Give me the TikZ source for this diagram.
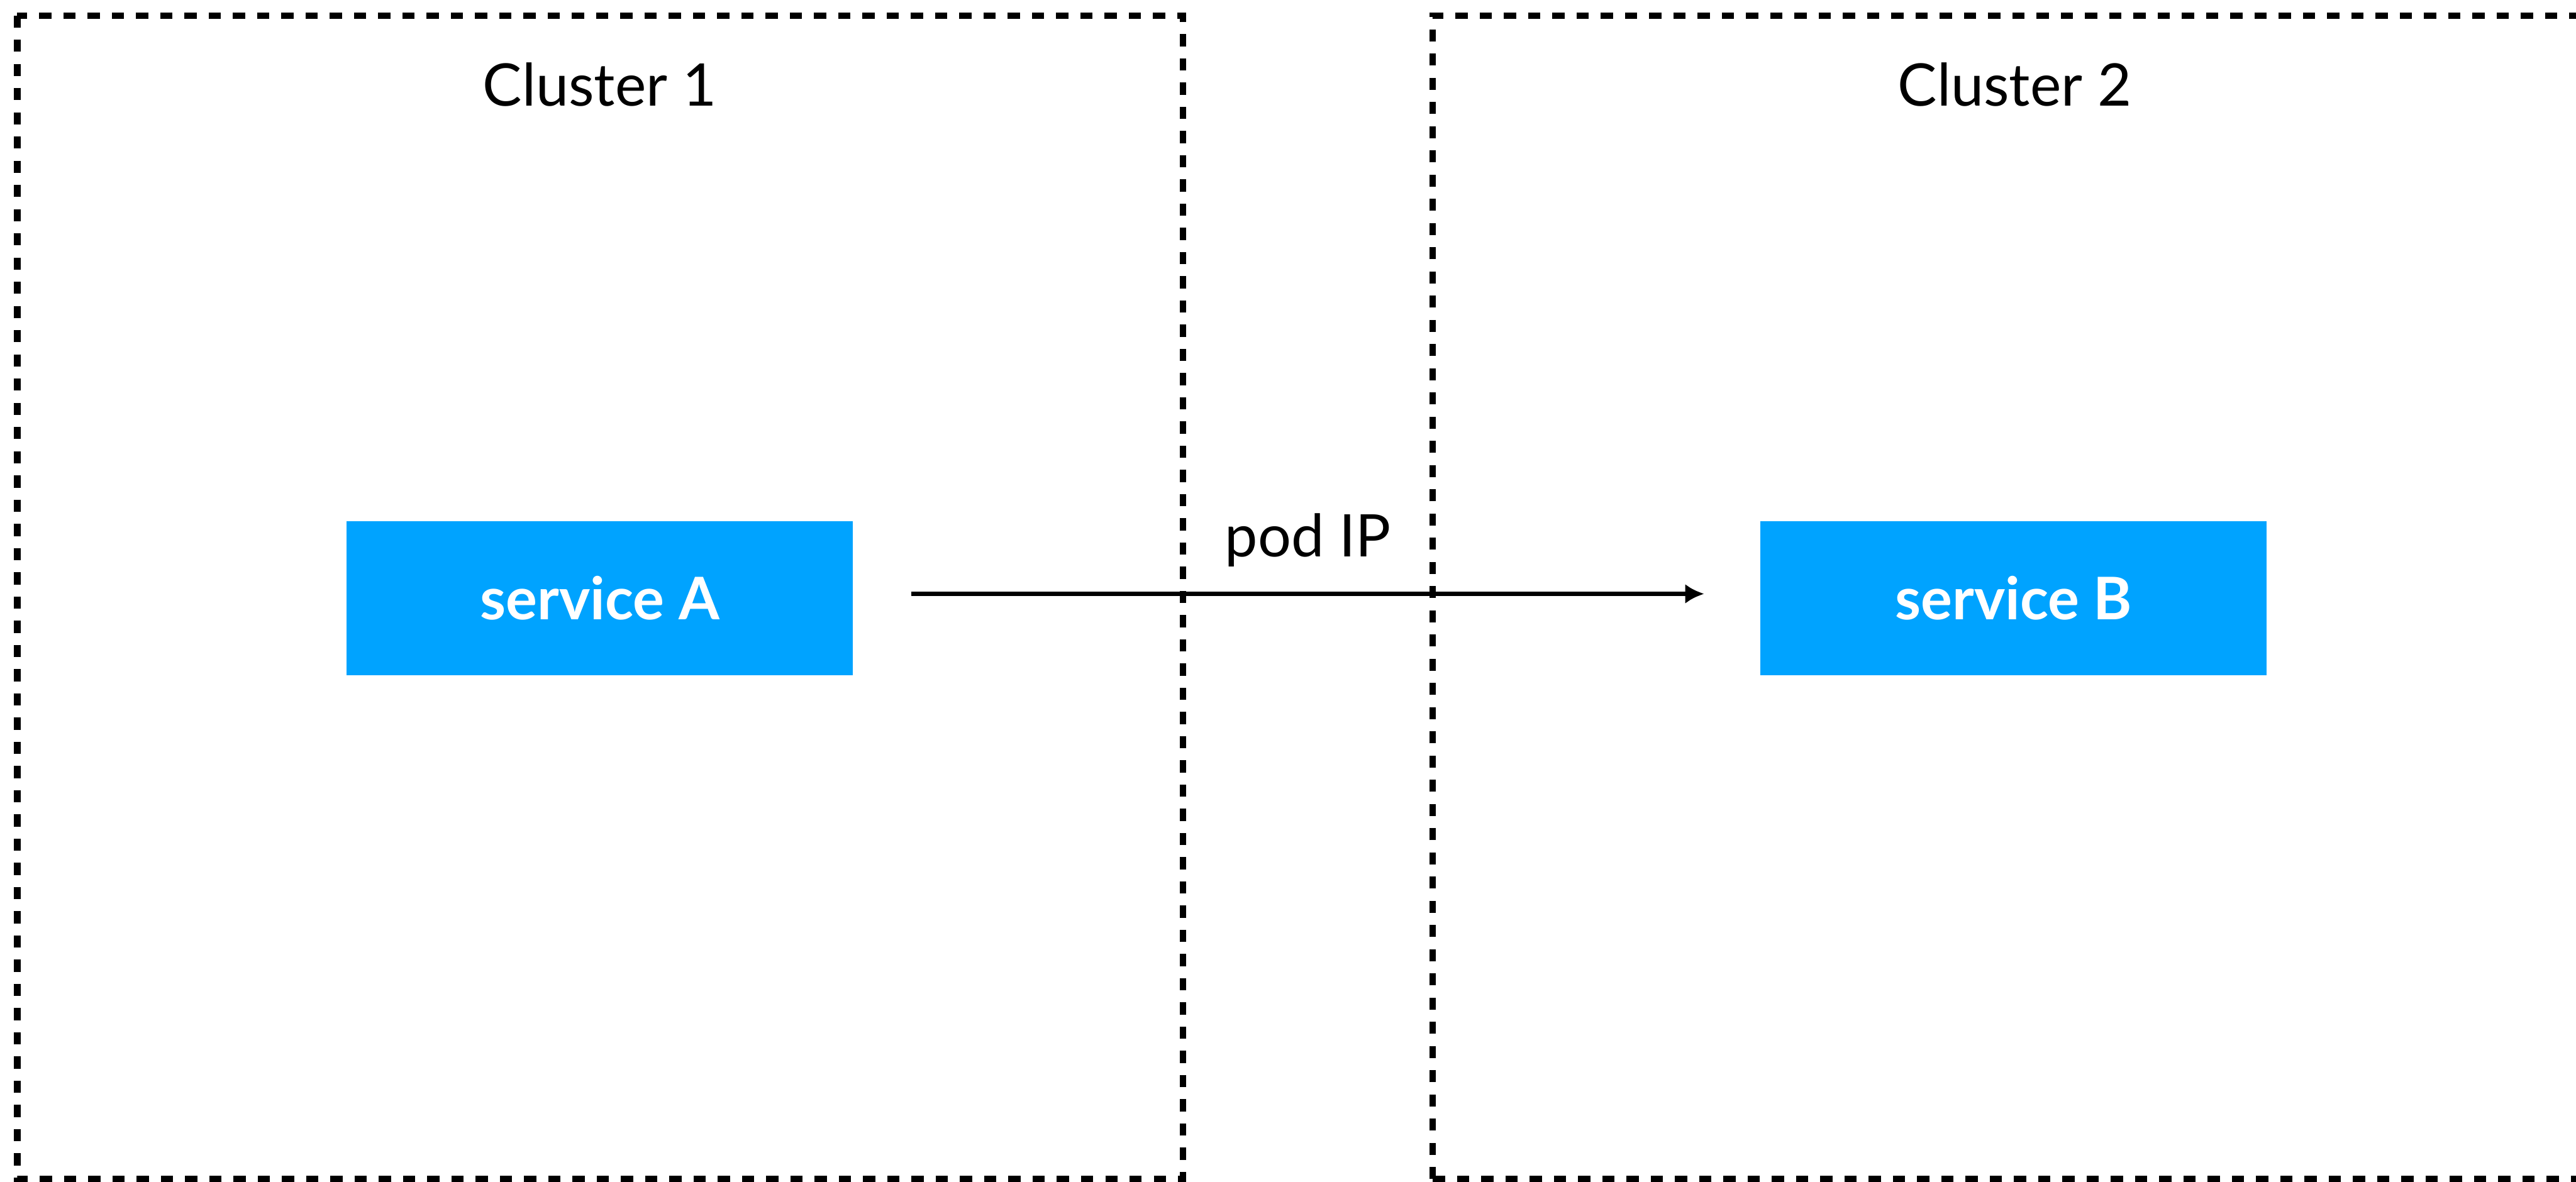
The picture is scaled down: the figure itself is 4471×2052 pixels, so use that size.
\documentclass[tikz,border=0pt]{standalone}
\usepackage{fontspec}
\setmainfont{Lato}
\usetikzlibrary{arrows.meta}
\definecolor{svcblue}{RGB}{0,163,255}
\tikzset{
  cluster/.style={draw=black, line width=0.11cm, dash pattern=on 0.21cm off 0.21cm},
  svc/.style={rectangle, fill=svcblue, draw=none, minimum width=8.78cm, minimum height=2.67cm, inner sep=0pt,
    text=white, font=\bfseries\fontsize{29pt}{35pt}\selectfont},
  lbl/.style={anchor=base, inner sep=0pt, text=black, font=\fontsize{29pt}{35pt}\selectfont},
  conn/.style={draw=black, line width=0.07cm, -{Latex[length=0.33cm, width=0.34cm]}}
}
\begin{document}
\begin{tikzpicture}[x=0.01cm, y=-0.01cm]
\useasboundingbox (0,0) rectangle (4471,2052);
\fill[white] (0,0) rectangle (4471,2052);
\draw[cluster] (30,27) rectangle (2053,2047);
\draw[cluster] (2487,2047) -- (2487,27) -- (4520,27);
\draw[cluster] (2487,2047) -- (4520,2047);
\node[lbl] (c1) at (1041,184) {Cluster 1};
\node[lbl] (c2) at (3497,184) {Cluster 2};
\node[svc] (sa) at (1041,1038.5) {service A};
\node[svc] (sb) at (3495,1038.5) {service B};
\draw[conn, shorten <=1.01cm, shorten >=0.97cm] (sa.east |- 0,1031) -- (sb.west |- 0,1031);
\node[lbl] (pod) at (2270,967) {pod IP};
\end{tikzpicture}
\end{document}
